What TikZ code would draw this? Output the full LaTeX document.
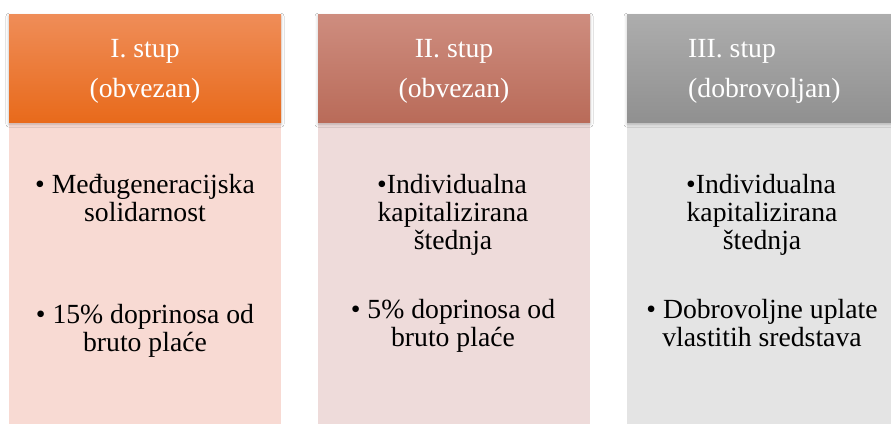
\documentclass[tikz,border=0pt]{standalone}
\usepackage{fontspec}
\setmainfont{Liberation Serif}
\usetikzlibrary{shadows.blur}
\definecolor{hAtop}{HTML}{EF8D58}
\definecolor{hAmid}{HTML}{F47E31}
\definecolor{hAbot}{HTML}{E86A1B}
\definecolor{bA}{HTML}{F8DAD3}
\definecolor{hBtop}{HTML}{CE8D7F}
\definecolor{hBmid}{HTML}{C37B6B}
\definecolor{hBbot}{HTML}{B96B59}
\definecolor{bB}{HTML}{EEDBDA}
\definecolor{hCtop}{HTML}{ADADAD}
\definecolor{hCmid}{HTML}{9F9F9F}
\definecolor{hCbot}{HTML}{909090}
\definecolor{bC}{HTML}{E4E4E4}
\tikzset{
  bodybox/.style={draw=none, minimum width=272pt, minimum height=310pt, inner sep=0pt, anchor=north},
  headbox/.style={draw=none, minimum width=272pt, minimum height=108pt, inner sep=0pt, anchor=north,
    blur shadow={shadow xshift=0pt, shadow yshift=-2pt, shadow blur radius=3pt, shadow opacity=22}},
  headtext/.style={text=white, inner sep=0pt, anchor=base, font=\fontsize{27.7}{40}\selectfont},
  bodytext/.style={text=black, inner sep=0pt, anchor=base, font=\fontsize{27.7}{28}\selectfont}
}
\begin{document}
\begin{tikzpicture}[x=1pt,y=-1pt]
\useasboundingbox (0,0) rectangle (891,423);
\clip (0,0) rectangle (891,423);
\fill[white] (0,0) rectangle (891,423);
% bodies
\node[bodybox, fill=bA] (b1) at (145,122) {};
\node[bodybox, fill=bB] (b2) at (454,122) {};
\node[bodybox, fill=bC] (b3) at (763,122) {};
% headers
\node[headbox, top color=hAtop, middle color=hAmid, bottom color=hAbot] (h1) at (145,14) {};
\node[headbox, top color=hBtop, middle color=hBmid, bottom color=hBbot] (h2) at (454,14) {};
\node[headbox, top color=hCtop, middle color=hCmid, bottom color=hCbot] (h3) at (763,14) {};
% header texts
\node[headtext] (t1a) at (145,57) {I. stup};
\node[headtext] (t1b) at (145,97) {(obvezan)};
\node[headtext] (t2a) at (454,57) {II. stup};
\node[headtext] (t2b) at (454,97) {(obvezan)};
\node[headtext, anchor=base west] (t3a) at (688,57) {III. stup};
\node[headtext, anchor=base west] (t3b) at (688,97) {(dobrovoljan)};
% body texts, column 1
\node[bodytext] (p1a) at (145,193) {• Međugeneracijska};
\node[bodytext] (p1b) at (145,221) {solidarnost};
\node[bodytext] (p1c) at (145,323) {• 15\% doprinosa od};
\node[bodytext] (p1d) at (145,351) {bruto plaće};
% column 2
\node[bodytext] (p2a) at (452,193) {•Individualna};
\node[bodytext] (p2b) at (453,221) {kapitalizirana};
\node[bodytext] (p2c) at (453,249) {štednja};
\node[bodytext] (p2d) at (453,318) {• 5\% doprinosa od};
\node[bodytext] (p2e) at (453,346) {bruto plaće};
% column 3
\node[bodytext] (p3a) at (761,193) {•Individualna};
\node[bodytext] (p3b) at (762,221) {kapitalizirana};
\node[bodytext] (p3c) at (762,249) {štednja};
\node[bodytext] (p3d) at (762,318) {• Dobrovoljne uplate};
\node[bodytext] (p3e) at (762,346) {vlastitih sredstava};
\end{tikzpicture}
\end{document}
